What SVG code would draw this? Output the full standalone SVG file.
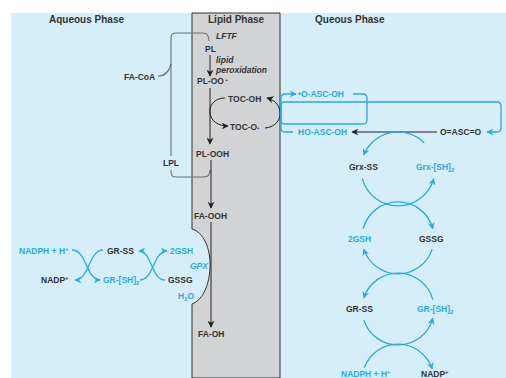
<svg xmlns="http://www.w3.org/2000/svg" width="506" height="378" viewBox="0 0 506 378">
<defs>
<style>
.t{font-family:"Liberation Sans",Arial,sans-serif;font-weight:bold;font-size:8.5px}
.h{font-size:10px}
.d{fill:#333}
.c{fill:#29abe2}
.i{font-style:italic}
.s{font-size:6px}
.ld{fill:none;stroke:#231f20;stroke-width:1}
.lc{fill:none;stroke:#29abe2;stroke-width:1.3}
.lg{fill:none;stroke:#6d6e70;stroke-width:1.1}
</style>
<marker id="ad" viewBox="0 0 10 10" refX="9" refY="5" markerWidth="7" markerHeight="7" orient="auto" markerUnits="userSpaceOnUse"><path d="M0,0 L10,5 L0,10 L3,5 z" fill="#231f20"/></marker>
<marker id="ac" viewBox="0 0 10 10" refX="9" refY="5" markerWidth="7" markerHeight="7" orient="auto" markerUnits="userSpaceOnUse"><path d="M0,0 L10,5 L0,10 L3,5 z" fill="#29abe2"/></marker>
</defs>
<rect width="506" height="378" fill="#fff"/>
<g id="phases">
<rect x="11" y="13" width="495" height="365" fill="#d5eefa"/>
<path d="M192,13 H280 V378 H192 V304 C201,301 209,288 210,268 C211,248 203,232 192,229 Z" fill="#d2d3d5" stroke="#333" stroke-width="1"/>
<text class="t h d" x="49" y="23">Aqueous Phase</text>
<text class="t h d" x="208" y="23">Lipid Phase</text>
<text class="t h d" x="315" y="23">Queous Phase</text>
</g>
<g id="connectors">
<path class="lg" d="M158,76 Q168,76 171,64 V38 Q171,33 176,33 H203 Q209,33 209,41"/>
<path class="lg" d="M171,64 V156"/>
<path class="lg" d="M171,170 V172 Q171,177 176,177 H204 Q210,177 210,170"/>
<path class="ld" d="M210,55 V76" marker-end="url(#ad)"/>
<path class="ld" d="M210,88 V144" marker-end="url(#ad)"/>
<path class="ld" d="M211,160 V208" marker-end="url(#ad)"/>
<path class="ld" d="M211,222 V327" marker-end="url(#ad)"/>
<path class="ld" d="M225,98 C213,98 209,107 210,113 C211,121 218,126 228,126" marker-end="url(#ad)"/>
<path class="ld" d="M265,128 C276,127 281,119 280,112 C279,104 274,100 267,98" marker-end="url(#ad)"/>
<path class="lc" d="M353,94 H363 Q367,94 367,98 V120 Q367,124 363,124 H285 Q281,124 281,120 V98 Q281,94 285,94 H296" marker-end="url(#ac)"/>
<path class="lc" d="M293,132 H285 Q281,132 281,128 V106 Q281,102 285,102 H497 Q501,102 501,106 V128 Q501,132 497,132 H487" marker-end="url(#ac)"/>
<path class="ld" d="M437,132 H352" marker-end="url(#ad)"/>
<path class="lc" d="M424.2,142.8 A37,37 0 0 0 363.7,155.1" marker-end="url(#ac)"/>
<path class="lc" d="M362.3,178.6 A37,37 0 0 0 433.7,178.6" marker-end="url(#ac)"/>
<path class="lc" d="M363.2,228.7 A36,36 0 0 1 432.8,228.7" marker-end="url(#ac)"/>
<path class="lc" d="M432.2,249.1 A36,36 0 0 1 363.8,249.1" marker-end="url(#ac)"/>
<path class="lc" d="M432.8,299.7 A36,36 0 0 0 363.8,297.9" marker-end="url(#ac)"/>
<path class="lc" d="M363.8,320.1 A36,36 0 0 0 432.8,318.3" marker-end="url(#ac)"/>
<path class="lc" d="M364.2,367.7 A36,36 0 0 1 432.2,368.9" marker-end="url(#ac)"/>
<path class="lc" d="M72,250 C87,250 86,280 100,280" marker-end="url(#ac)"/>
<path class="lc" d="M103,250 C89,250 89,280 75,280" marker-end="url(#ac)"/>
<path class="lc" d="M165,280 C151,280 152,251 139,251" marker-end="url(#ac)"/>
<path class="lc" d="M140,280 C154,280 153,251 167,251" marker-end="url(#ac)"/>
</g>
<g id="lipid-nodes">
<text class="t d i" x="216" y="39">LFTF</text>
<text class="t d" x="205" y="52">PL</text>
<text class="t d i" x="216" y="63">lipid</text>
<text class="t d i" x="216" y="73">peroxidation</text>
<text class="t d" x="197" y="84">PL-OO<tspan class="s" dy="-2"> •</tspan></text>
<text class="t d" x="228" y="102">TOC-OH</text>
<text class="t d" x="230" y="130">TOC-O<tspan class="s">•</tspan></text>
<text class="t d" x="196" y="157">PL-OOH</text>
<text class="t d" x="194" y="219">FA-OOH</text>
<text class="t d" x="198" y="337">FA-OH</text>
</g>
<g id="left-nodes">
<text class="t d" x="124" y="80">FA-CoA</text>
<text class="t d" x="163" y="166">LPL</text>
<text class="t c" x="19" y="254">NADPH + H<tspan class="s" dy="-3">+</tspan></text>
<text class="t d" x="107" y="254">GR-SS</text>
<text class="t c" x="170" y="254">2GSH</text>
<text class="t d" x="41" y="283">NADP<tspan class="s" dy="-3">+</tspan></text>
<text class="t c" x="103" y="283">GR-[SH]<tspan class="s" dy="2">2</tspan></text>
<text class="t d" x="168" y="283">GSSG</text>
<text class="t c i" x="190" y="269">GPX</text>
<text class="t c" x="178" y="299">H<tspan class="s" dy="2">2</tspan><tspan dy="-2">O</tspan></text>
</g>
<g id="right-nodes">
<text class="t c" x="298" y="97">•O-ASC-OH</text>
<text class="t c" x="298" y="135">HO-ASC-OH</text>
<text class="t d" x="440" y="135">O=ASC=O</text>
<text class="t d" x="349" y="170">Grx-SS</text>
<text class="t c" x="416" y="170">Grx-[SH]<tspan class="s" dy="2">2</tspan></text>
<text class="t c" x="348" y="242">2GSH</text>
<text class="t d" x="419" y="242">GSSG</text>
<text class="t d" x="346" y="312">GR-SS</text>
<text class="t c" x="417" y="312">GR-[SH]<tspan class="s" dy="2">2</tspan></text>
<text class="t c" x="341" y="377">NADPH + H<tspan class="s" dy="-3">+</tspan></text>
<text class="t d" x="421" y="377">NADP<tspan class="s" dy="-3">+</tspan></text>
</g>
</svg>
